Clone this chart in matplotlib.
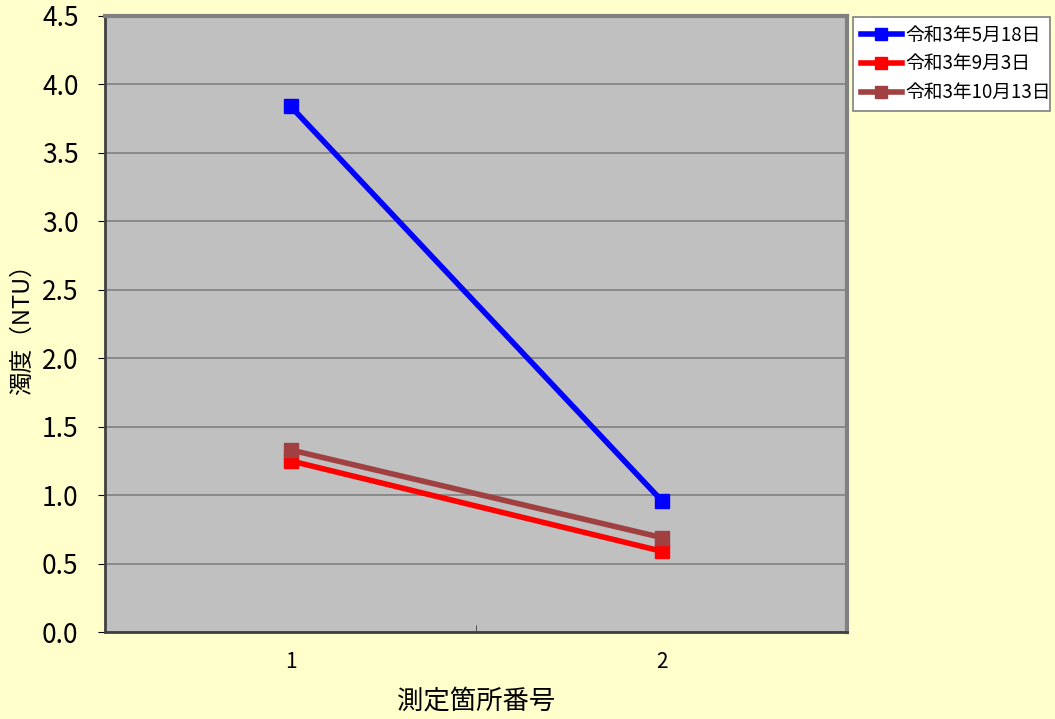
import numpy as np
import matplotlib.pyplot as plt

plt.rcParams['font.family'] = ['Noto Sans CJK JP', 'DejaVu Sans']

# measuring points and turbidity per date
points = ['1', '2']
labels = ['令和3年5月18日', '令和3年9月3日', '令和3年10月13日']
turb_0518 = [3.84, 0.96]
turb_0903 = [1.25, 0.59]
turb_1013 = [1.33, 0.69]
colors = ['#0000FF', '#FF0000', '#A04040']

fig = plt.figure(figsize=(10.55, 7.19), dpi=100, facecolor='#FFFFCC')
ax = fig.add_axes([0.0995, 0.121, 0.7035, 0.857])
ax.set_facecolor('#C0C0C0')

x = np.arange(1, len(points) + 1)
for y, lab, c in zip([turb_0518, turb_0903, turb_1013], labels, colors):
    ax.plot(x, y, color=c, linewidth=4, marker='s', markersize=10.5, label=lab)

ax.set_xlim(0.5, 2.5)
ax.set_ylim(0, 4.5)
ax.set_yticks(np.arange(0, 4.51, 0.5))
ax.set_yticklabels(['%.1f' % v for v in np.arange(0, 4.51, 0.5)], fontsize=19)
ax.set_xticks(x)
ax.set_xticklabels(points, fontsize=15)
ax.set_xticks([0.5, 1.5, 2.5], minor=True)
ax.tick_params(axis='x', which='major', length=0, pad=14)
ax.tick_params(axis='x', which='minor', length=5, direction='in', color='#404040')
ax.tick_params(axis='y', length=5, direction='out', pad=14)
ax.yaxis.grid(True, color='#808080', linewidth=1.2)
ax.set_axisbelow(True)

for s in ['left', 'bottom']:
    ax.spines[s].set_color('#404040')
    ax.spines[s].set_linewidth(2)
for s in ['top', 'right']:
    ax.spines[s].set_color('#808080')
    ax.spines[s].set_linewidth(3)

ax.set_ylabel('濁度（NTU）', fontsize=17, labelpad=6)
ax.set_xlabel('測定箇所番号', fontsize=19, labelpad=10)

leg = ax.legend(loc='upper left',
                bbox_to_anchor=(853 / 1055, 1 - 17 / 719 - 0.01, 197 / 1055, 0.01),
                bbox_transform=fig.transFigure, mode='expand',
                fontsize=13.5, frameon=True, fancybox=False, framealpha=1,
                edgecolor='#808080', handlelength=2.2, borderpad=0.4,
                labelspacing=0.42, handletextpad=0.2, markerscale=0.8,
                borderaxespad=0)
leg.get_frame().set_linewidth(1.2)

fig.savefig('out.png', dpi=100, facecolor=fig.get_facecolor())
